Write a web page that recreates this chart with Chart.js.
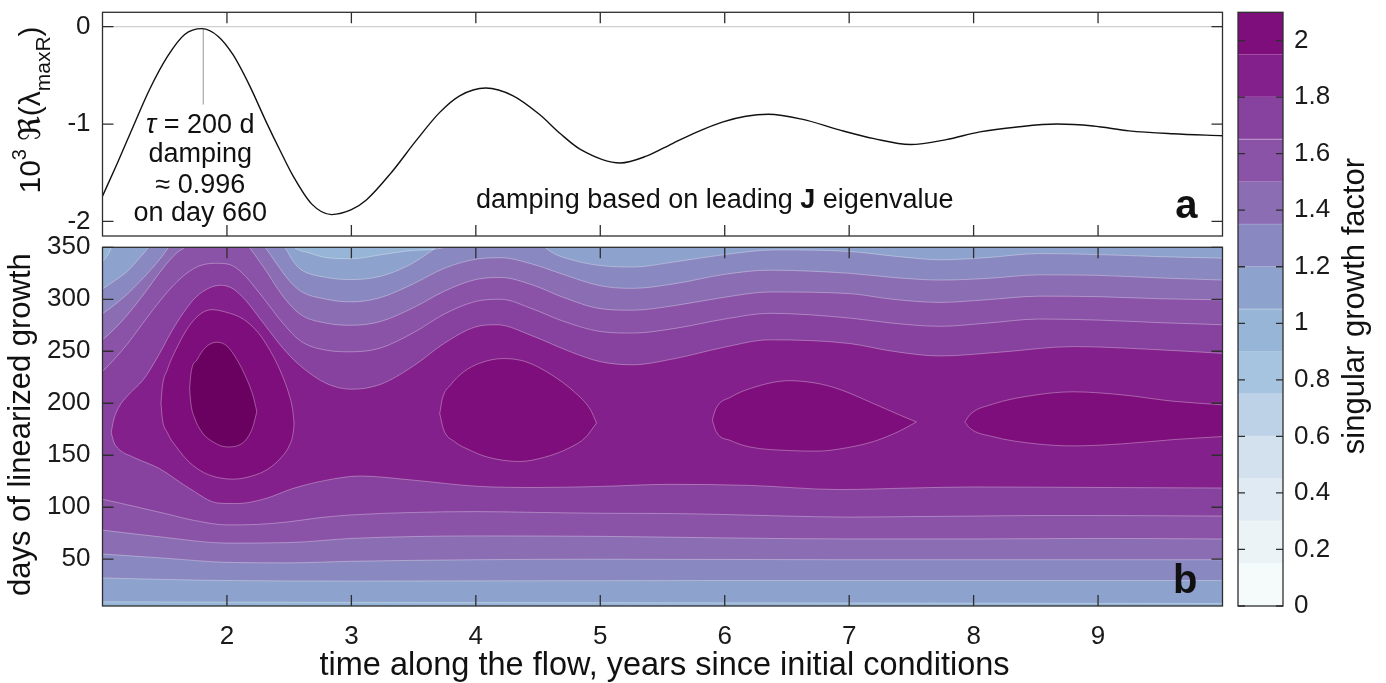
<!DOCTYPE html>
<html>
<head>
<meta charset="utf-8">
<title>Singular growth factor along the flow</title>
<script src="https://cdn.jsdelivr.net/npm/chart.js@4.4.1/dist/chart.umd.min.js"></script>
<style>
  html, body { margin: 0; padding: 0; background: #fff; }
  .wrap { position: relative; width: 1386px; height: 683px; overflow: hidden; }
  .wrap canvas { position: absolute; left: 0; top: 0; }
</style>
</head>
<body>
<div class="wrap">
  <canvas id="eigChart" width="1386" height="683"></canvas>
  <canvas id="growthChart" width="1386" height="683"></canvas>
  <canvas id="colorbar" width="1386" height="683"></canvas>
</div>
<script>
const FONT = "'Liberation Sans', Arial, Helvetica, 'DejaVu Sans', sans-serif";
Chart.defaults.font.family = FONT;
Chart.defaults.font.size = 26;
Chart.defaults.color = '#1a1a1a';

// panel a: 10^3 * Re(lambda_maxR) along the flow
const eigYears = [1, 1.12, 1.245, 1.38, 1.52, 1.66, 1.80, 1.93, 2.05, 2.18,
  2.32, 2.43, 2.53, 2.68, 2.84, 3.0, 3.12, 3.32, 3.52, 3.71,
  3.87, 4.08, 4.3, 4.51, 4.68, 4.84, 5.16, 5.37, 5.58, 5.78,
  5.98, 6.17, 6.35, 6.62, 6.92, 7.2, 7.49, 7.78, 8.05, 8.35,
  8.67, 8.96, 9.25, 9.6, 10];
const eigValues = [-1.74, -1.40, -1.03, -0.64, -0.31, -0.08, -0.02, -0.10, -0.29, -0.60,
  -0.99, -1.28, -1.53, -1.82, -1.93, -1.88, -1.78, -1.50, -1.17, -0.88,
  -0.71, -0.63, -0.71, -0.90, -1.10, -1.26, -1.40, -1.33, -1.20, -1.08,
  -0.98, -0.92, -0.90, -0.95, -1.06, -1.15, -1.21, -1.16, -1.08, -1.03,
  -1.00, -1.02, -1.07, -1.10, -1.12];
const peakYear = 1.81;          // day 660
const peakValue = -0.02;
const peakStemEnd = -0.8;

const yearTicks = [2, 3, 4, 5, 6, 7, 8, 9];
const eigTicks = [0, -1, -2];
const daysTicks = [50, 100, 150, 200, 250, 300, 350];
const factorTicks = [0, 0.2, 0.4, 0.6, 0.8, 1, 1.2, 1.4, 1.6, 1.8, 2];
const factorLevels = [0, 0.15, 0.3, 0.45, 0.6, 0.75, 0.9, 1.05, 1.2, 1.35, 1.5, 1.65, 1.8, 1.95, 2.1];

// panel b: contours of the singular growth factor, [year, days]
const iso105Low = [[1, 9], [3, 8.5], [10, 7.5]];
const iso105High = [[1, 336], [1.05, 344], [1.1, 358], [1.18, 375], [2.42, 375], [2.49, 357], [2.55, 349],
  [2.65, 345], [2.8, 340], [3.0, 339], [3.25, 343], [3.5, 347], [3.76, 350.5], [3.9, 375], [10, 375]];

const iso120Low = [[1, 32], [1.5, 30.5], [2, 29.5], [3, 29], [6, 29.5], [10, 29.5]];
const iso120High = [[1, 310], [1.1, 318], [1.2, 327], [1.3, 340], [1.37, 350], [1.45, 364], [1.55, 375],
  [2.3, 375], [2.4, 360], [2.47, 349], [2.53, 337], [2.59, 329], [2.8, 321], [3.0, 319], [3.23, 322],
  [3.45, 332], [3.6, 343], [3.7, 352], [3.85, 375], [4.4, 375], [4.5, 357], [4.6, 346], [4.8, 337],
  [5.0, 332.5], [5.26, 331], [5.6, 336], [6.0, 343], [6.4, 347.5], [7.0, 346], [7.4, 341], [7.73, 338],
  [8.1, 340], [8.53, 344], [9.0, 343], [9.5, 341], [10, 339.5]];

const iso135Low = [[1, 55], [1.5, 51], [2, 47], [2.5, 46.5], [3, 48], [4, 49.5], [5, 50], [7, 49.5], [10, 49.5]];
const iso135High = [[1, 286], [1.1, 295], [1.2, 305], [1.3, 317], [1.4, 330], [1.47, 340], [1.53, 350],
  [1.6, 362], [1.7, 375], [2.1, 375], [2.2, 362], [2.3, 351], [2.4, 334], [2.5, 318], [2.59, 308],
  [2.8, 300], [3.0, 297.5], [3.23, 301.5], [3.5, 315], [3.75, 330], [4.0, 338.5], [4.2, 340], [4.45, 334],
  [4.7, 324], [5.0, 313], [5.26, 310.5], [5.6, 315], [6.0, 324], [6.36, 328], [7.0, 325], [7.35, 321],
  [7.73, 318.5], [8.1, 320], [8.53, 323.5], [9.0, 323], [9.5, 320.5], [10, 318.5]];

const iso150Low = [[1, 78], [1.5, 71], [2, 65.5], [2.5, 66], [3, 70], [3.5, 71.8], [4, 72.4], [5, 72],
  [6, 70.5], [7, 69.5], [8, 69.5], [9, 70], [10, 69.5]];
const iso150High = [[1, 261], [1.1, 272], [1.2, 285], [1.3, 300], [1.4, 316], [1.5, 332], [1.6, 345],
  [1.68, 352], [1.8, 375], [2.05, 375], [2.12, 360], [2.18, 350], [2.3, 330], [2.45, 303], [2.59, 285.5],
  [2.8, 277], [3.0, 275], [3.23, 278.5], [3.5, 292], [3.75, 308], [4.0, 319], [4.2, 321], [4.45, 314],
  [4.7, 302], [5.0, 291], [5.26, 289.5], [5.6, 294], [6.0, 302], [6.36, 307], [7.0, 305.5], [7.35, 300],
  [7.73, 297], [8.1, 299.5], [8.53, 303], [9.0, 302.5], [9.5, 300.5], [10, 299.5]];

const iso165Low = [[1, 107.7], [1.25, 101], [1.5, 94], [1.75, 87], [2, 83], [2.25, 83.5], [2.5, 86],
  [2.75, 90], [3, 92.6], [3.5, 95], [4, 95.8], [4.5, 95], [5, 94.2], [5.5, 94], [6, 93], [6.5, 91.5],
  [7, 90.5], [7.5, 91], [8, 91.5], [8.5, 92], [9, 92], [9.5, 91.8], [10, 91.5]];
const iso165High = [[1, 230.5], [1.1, 243], [1.2, 257], [1.3, 273], [1.4, 289], [1.5, 304], [1.6, 317],
  [1.7, 327], [1.8, 333], [1.93, 334.6], [2.05, 332], [2.15, 322], [2.3, 300], [2.45, 277], [2.59, 260],
  [2.8, 251], [3.0, 249.5], [3.23, 253], [3.5, 268], [3.75, 286], [4.0, 298], [4.2, 300], [4.45, 291],
  [4.7, 279], [5.0, 269], [5.26, 267.5], [5.6, 272], [6.0, 281], [6.36, 286.5], [7.0, 282], [7.35, 277],
  [7.73, 274], [8.1, 277], [8.53, 281], [9.0, 280], [9.5, 277.5], [10, 275.5]];

const iso180Low = [[1.07, 172], [1.09, 163], [1.13, 156], [1.25, 148], [1.46, 137], [1.7, 118], [1.93, 104],
  [2.08, 103.5], [2.3, 108], [2.53, 118], [2.8, 126], [3.07, 130], [3.5, 126], [4.03, 120], [4.5, 119],
  [5, 120], [5.56, 122], [6.2, 121], [6.92, 117], [7.5, 118.5], [8, 119.5], [9, 119], [10, 118.5]];
const iso180High = [[1.07, 172], [1.09, 184], [1.13, 196], [1.2, 207], [1.33, 223], [1.45, 246], [1.55, 268],
  [1.65, 287], [1.75, 302], [1.86, 311], [1.95, 313.5], [2.05, 310], [2.15, 299], [2.3, 276], [2.45, 253],
  [2.59, 236], [2.8, 219], [3.0, 213.5], [3.23, 218], [3.5, 236], [3.75, 258], [4.0, 273.5], [4.17, 275.5],
  [4.45, 265], [4.75, 250], [5.0, 240], [5.26, 237], [5.6, 243], [6.0, 254], [6.36, 261], [7.0, 257.5],
  [7.35, 250], [7.73, 245.5], [8.2, 249], [8.8, 254.5], [9.4, 252], [10, 248]];

const iso195aHigh = [[1.47, 200], [1.48, 215], [1.52, 232], [1.6, 254], [1.7, 275], [1.8, 287], [1.88, 290],
  [1.98, 288], [2.13, 281], [2.25, 268], [2.35, 250], [2.44, 228], [2.5, 208], [2.53, 192], [2.54, 180]];
const iso195aLow = [[1.47, 200], [1.48, 186], [1.52, 172], [1.6, 157], [1.7, 143], [1.82, 133], [1.95, 128],
  [2.05, 127], [2.2, 130], [2.32, 136], [2.43, 147], [2.5, 159], [2.53, 170], [2.54, 180]];
const iso195bHigh = [[3.71, 190], [3.73, 204], [3.8, 218], [3.9, 230], [4.03, 238.5], [4.22, 243], [4.4, 240],
  [4.6, 228], [4.8, 210], [4.92, 194], [4.97, 181]];
const iso195bLow = [[3.71, 190], [3.74, 175], [3.83, 163], [3.95, 155], [4.1, 148], [4.35, 144], [4.55, 148],
  [4.75, 157], [4.88, 167], [4.97, 181]];
const iso195cHigh = [[5.9, 184], [5.93, 195], [6.05, 206], [6.2, 214], [6.52, 221.7], [6.75, 219], [6.92, 213.5],
  [7.19, 200], [7.4, 189], [7.54, 182]];
const iso195cLow = [[5.9, 184], [5.93, 173], [6.05, 164], [6.2, 158], [6.52, 154.5], [6.75, 154], [6.92, 156],
  [7.19, 163], [7.4, 173], [7.54, 182]];
const iso195dHigh = [[7.93, 182], [7.97, 189], [8.15, 199], [8.5, 208], [8.8, 211], [9.2, 208], [9.6, 202], [10, 198.5]];
const iso195dLow = [[7.93, 182], [7.97, 176], [8.15, 168], [8.5, 161], [8.8, 159], [9.2, 161], [9.6, 165], [10, 168]];

const iso210High = [[1.70, 214], [1.71, 228], [1.76, 242], [1.83, 254], [1.92, 258.7], [2.0, 255], [2.08, 242],
  [2.16, 223], [2.21, 207], [2.24, 192]];
const iso210Low = [[1.70, 214], [1.71, 200], [1.74, 186], [1.8, 172], [1.9, 162], [2.0, 158], [2.08, 159],
  [2.16, 166], [2.21, 178], [2.24, 192]];

// colour of each 0.15 band, from 0 up to 2.1, plus the band above 2.1
const bandColors = ['#f5fafb', '#ecf3f6', '#dfeaf2', '#d2e1ed', '#bdd2e6', '#a6c3df', '#97b6d7',
  '#8da2cc', '#8a88c0', '#8b6db3', '#8a53a8', '#87419f', '#84208b', '#7e0e7b'];
const aboveTopColor = '#6a005f';
const contourStroke = 'rgba(255,255,255,0.36)';

const toPoints = arr => arr.map(([x, y]) => ({ x, y }));
const colorForLevel = lvl => {
  const i = factorLevels.findIndex(v => Math.abs(v - lvl) < 1e-6);
  return i < bandColors.length ? bandColors[i] : aboveTopColor;
};
// mix a hex colour towards white (used for the thin lines between colour bar bands)
const lighten = (hex, k) => {
  const n = parseInt(hex.slice(1), 16);
  const c = [n >> 16, (n >> 8) & 255, n & 255].map(v => Math.round(v + (255 - v) * k));
  return `rgb(${c.join(',')})`;
};

// pin the plot boxes so the three panels line up
const fixWidth = w => s => { s.width = w; s.paddingTop = 0; s.paddingBottom = 0; };
const fixHeight = h => s => { s.height = h; s.paddingLeft = 0; s.paddingRight = 0; };

const PLOT_LEFT = 102.5, PLOT_RIGHT = 1222.5;

// box + inward tick marks on all four sides
const frameTicks = {
  id: 'frameTicks',
  afterDraw(chart, args, opts) {
    const { ctx, chartArea: a, scales } = chart;
    const len = opts.len || 10;
    ctx.save();
    ctx.strokeStyle = '#2e2e2e';
    ctx.lineWidth = 1.3;
    ctx.beginPath();
    (opts.x || []).forEach(v => {
      const p = scales.x.getPixelForValue(v);
      ctx.moveTo(p, a.top); ctx.lineTo(p, a.top + len);
      ctx.moveTo(p, a.bottom); ctx.lineTo(p, a.bottom - len);
    });
    (opts.y || []).forEach(v => {
      const p = scales.y.getPixelForValue(v);
      ctx.moveTo(a.left, p); ctx.lineTo(a.left + len, p);
      ctx.moveTo(a.right, p); ctx.lineTo(a.right - len, p);
    });
    ctx.stroke();
    ctx.strokeRect(a.left, a.top, a.right - a.left, a.bottom - a.top);
    ctx.restore();
  }
};

// draw a row of text runs (mixed fonts, sub/superscripts) centred on (cx, cy)
function drawRuns(ctx, runs, cx, cy, angle) {
  ctx.save();
  ctx.translate(cx, cy);
  if (angle) ctx.rotate(angle);
  ctx.textAlign = 'left';
  ctx.textBaseline = 'alphabetic';
  let total = 0;
  runs.forEach(r => { ctx.font = r.font; r.w = ctx.measureText(r.text).width; total += r.w; });
  let u = -total / 2;
  runs.forEach(r => { ctx.font = r.font; ctx.fillText(r.text, u, r.dy || 0); u += r.w; });
  ctx.restore();
}
const f = (size, style) => `${style ? style + ' ' : ''}${size}px ${FONT}`;
const TITLE = 31, NOTE = 27;

// ---------- panel a ----------
const eigLabels = {
  id: 'eigLabels',
  afterDraw(chart) {
    const { ctx, chartArea: a, scales: { x } } = chart;
    ctx.save();
    ctx.fillStyle = '#111';
    drawRuns(ctx, [
      { text: '10', font: f(30) },
      { text: '3', font: f(20), dy: -14 },
      { text: ' \u211C(\u03BB', font: f(30) },
      { text: 'maxR', font: f(21), dy: 10 },
      { text: ')', font: f(30) }
    ], 40, 110, -Math.PI / 2);

    const cx = x.getPixelForValue(peakYear) - 3;
    drawRuns(ctx, [{ text: '\u03C4', font: f(NOTE, 'italic') }, { text: ' = 200 d', font: f(NOTE) }], cx, 133);
    drawRuns(ctx, [{ text: 'damping', font: f(NOTE) }], cx, 162);
    drawRuns(ctx, [{ text: '\u2248 0.996', font: f(NOTE) }], cx, 193);
    drawRuns(ctx, [{ text: 'on day 660', font: f(NOTE) }], cx, 221);

    drawRuns(ctx, [
      { text: 'damping based on leading ', font: f(NOTE) },
      { text: 'J', font: f(NOTE, 'bold') },
      { text: ' eigenvalue', font: f(NOTE) }
    ], x.getPixelForValue(5.92), 208);

    ctx.font = f(40, 'bold');
    ctx.textAlign = 'right';
    ctx.fillText('a', a.right - 25, a.bottom - 18);
    ctx.restore();
  }
};

new Chart(document.getElementById('eigChart'), {
  type: 'line',
  data: {
    datasets: [
      {
        data: toPoints(eigYears.map((t, i) => [t, eigValues[i]])),
        borderColor: '#111', borderWidth: 1.4, pointRadius: 0,
        cubicInterpolationMode: 'monotone', fill: false, order: 0
      },
      {
        data: [{ x: 1, y: 0 }, { x: 10, y: 0 }],
        borderColor: '#cfcfcf', borderWidth: 1.2, pointRadius: 0, fill: false, order: 2
      },
      {
        data: [{ x: peakYear, y: peakValue }, { x: peakYear, y: peakStemEnd }],
        borderColor: '#a8a8a8', borderWidth: 1.2, pointRadius: 0, fill: false, order: 1
      }
    ]
  },
  options: {
    responsive: false, animation: false, devicePixelRatio: 1,
    layout: { padding: { left: 0, right: 1386 - PLOT_RIGHT, top: 12.3, bottom: 683 - 236 } },
    plugins: {
      legend: { display: false }, tooltip: { enabled: false },
      frameTicks: { x: yearTicks, y: eigTicks, len: 11 }
    },
    scales: {
      x: { type: 'linear', min: 1, max: 10, display: false },
      y: {
        min: -2.15, max: 0.148,
        afterBuildTicks: s => { s.ticks = eigTicks.map(v => ({ value: v })); },
        afterFit: fixWidth(PLOT_LEFT),
        ticks: { padding: 12, callback: v => String(v) },
        grid: { display: false, drawTicks: false },
        border: { display: false }
      }
    }
  },
  plugins: [frameTicks, eigLabels]
});

// ---------- panel b ----------
const contourSets = [
  { level: 1.05, high: iso105High, low: iso105Low },
  { level: 1.2, high: iso120High, low: iso120Low },
  { level: 1.35, high: iso135High, low: iso135Low },
  { level: 1.5, high: iso150High, low: iso150Low },
  { level: 1.65, high: iso165High, low: iso165Low },
  { level: 1.8, high: iso180High, low: iso180Low },
  { level: 1.95, high: iso195aHigh, low: iso195aLow },
  { level: 1.95, high: iso195bHigh, low: iso195bLow },
  { level: 1.95, high: iso195cHigh, low: iso195cLow },
  { level: 1.95, high: iso195dHigh, low: iso195dLow },
  { level: 2.1, high: iso210High, low: iso210Low }
];

const contourLine = (arr, order) => ({
  data: toPoints(arr),
  borderColor: contourStroke, borderWidth: 0.9, pointRadius: 0,
  cubicInterpolationMode: 'monotone', fill: false, order
});

// each region above a level is filled between its upper and lower contour
const growthDatasets = [];
contourSets.forEach((c, i) => {
  const lowIdx = growthDatasets.length;
  growthDatasets.push(contourLine(c.low, 100 - i));
  growthDatasets.push(Object.assign(contourLine(c.high, 100 - i), {
    fill: lowIdx,
    backgroundColor: colorForLevel(c.level)
  }));
});

const areaBackground = {
  id: 'areaBackground',
  beforeDraw(chart) {
    const { ctx, chartArea: a } = chart;
    ctx.save();
    ctx.fillStyle = colorForLevel(0.9);
    ctx.fillRect(a.left, a.top, a.right - a.left, a.bottom - a.top);
    ctx.restore();
  }
};

const growthLabels = {
  id: 'growthLabels',
  afterDraw(chart) {
    const { ctx, chartArea: a } = chart;
    ctx.save();
    ctx.fillStyle = '#111';
    drawRuns(ctx, [{ text: 'time along the flow, years since initial conditions', font: f(32.5) }],
      (a.left + a.right) / 2 + 2, 675);
    drawRuns(ctx, [{ text: 'days of linearized growth', font: f(TITLE) }],
      30, (a.top + a.bottom) / 2 - 2, -Math.PI / 2);
    ctx.font = f(40, 'bold');
    ctx.textAlign = 'right';
    ctx.fillText('b', a.right - 25, a.bottom - 13);
    ctx.restore();
  }
};

new Chart(document.getElementById('growthChart'), {
  type: 'line',
  data: { datasets: growthDatasets },
  options: {
    responsive: false, animation: false, devicePixelRatio: 1,
    layout: { padding: { left: 0, right: 1386 - PLOT_RIGHT, top: 247.3, bottom: 683 - 606 - 40 } },
    plugins: {
      legend: { display: false }, tooltip: { enabled: false },
      filler: { drawTime: 'beforeDatasetsDraw', propagate: false },
      frameTicks: { x: yearTicks, y: daysTicks, len: 11 }
    },
    scales: {
      x: {
        type: 'linear', min: 1, max: 10,
        afterBuildTicks: s => { s.ticks = yearTicks.map(v => ({ value: v })); },
        afterFit: fixHeight(40),
        ticks: { padding: 15, autoSkip: false, maxRotation: 0 },
        grid: { display: false, drawTicks: false },
        border: { display: false }
      },
      y: {
        min: 5, max: 350,
        afterBuildTicks: s => { s.ticks = daysTicks.map(v => ({ value: v })); },
        afterFit: fixWidth(PLOT_LEFT),
        ticks: { padding: 12 },
        grid: { display: false, drawTicks: false },
        border: { display: false }
      }
    }
  },
  plugins: [areaBackground, frameTicks, growthLabels]
});

// ---------- colour bar ----------
const colorbarLabels = {
  id: 'colorbarLabels',
  afterDraw(chart) {
    const { ctx } = chart;
    ctx.save();
    ctx.fillStyle = '#111';
    drawRuns(ctx, [{ text: 'singular growth factor', font: f(TITLE) }], 1364, 306, -Math.PI / 2);
    ctx.restore();
  }
};

new Chart(document.getElementById('colorbar'), {
  type: 'bar',
  data: {
    labels: [''],
    datasets: factorLevels.slice(0, -1).map((lo, i) => ({
      data: [factorLevels[i + 1] - lo],
      backgroundColor: bandColors[i],
      borderColor: lighten(bandColors[i], 0.3),
      borderWidth: i === 0 ? 0 : { top: 0, bottom: 1, left: 0, right: 0 },
      borderSkipped: false,
      categoryPercentage: 1, barPercentage: 1
    }))
  },
  options: {
    responsive: false, animation: false, devicePixelRatio: 1,
    layout: { padding: { left: 1238, right: 1386 - 1283 - 60, top: 12.3, bottom: 683 - 606 } },
    plugins: {
      legend: { display: false }, tooltip: { enabled: false },
      frameTicks: { y: factorTicks, len: 7 }
    },
    scales: {
      x: { stacked: true, display: false },
      y: {
        stacked: true, position: 'right', min: 0, max: 2.1,
        afterBuildTicks: s => { s.ticks = factorTicks.map(v => ({ value: v })); },
        afterFit: fixWidth(60),
        ticks: { padding: 11, callback: v => String(+v.toFixed(1)) },
        grid: { display: false, drawTicks: false },
        border: { display: false }
      }
    }
  },
  plugins: [frameTicks, colorbarLabels]
});
</script>
</body>
</html>
